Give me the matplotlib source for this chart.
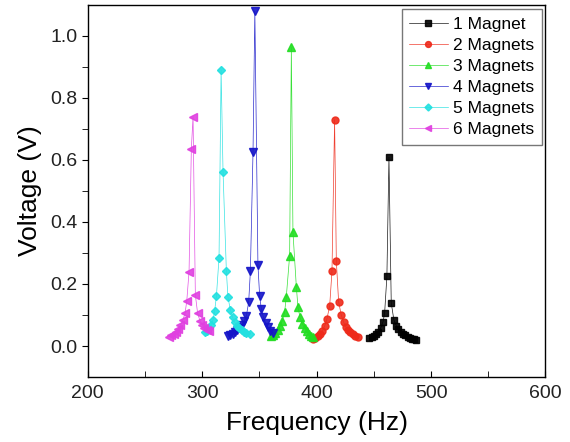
import numpy as np
from matplotlib import pyplot as plt

plt.rcParams['font.family'] = ['Liberation Sans', 'DejaVu Sans']

# frequency (Hz) / voltage (V), one pair per series
f1 = [446, 448, 450, 452, 454, 456, 458, 459.4, 461.4, 463.2, 465.2, 467.5, 469.5, 471.5,
      473.5, 475.5, 477.5, 479.5, 481.5, 483.5, 485.5, 487]
v1 = [0.025, 0.028, 0.033, 0.038, 0.046, 0.058, 0.078, 0.105, 0.225, 0.609, 0.139, 0.084,
      0.066, 0.054, 0.045, 0.039, 0.034, 0.030, 0.027, 0.024, 0.022, 0.020]

f2 = [397, 399, 401, 403, 405, 407, 409, 411.4, 413.4, 415.7, 417.2, 419.2, 421.5, 423.5,
      425.5, 427.5, 429.5, 431.5, 433.5, 436]
v2 = [0.023, 0.027, 0.032, 0.039, 0.049, 0.064, 0.087, 0.13, 0.241, 0.73, 0.275, 0.143, 0.10,
      0.077, 0.062, 0.052, 0.044, 0.038, 0.033, 0.028]

f3 = [360.4, 362, 364, 366, 368, 370, 372, 373.5, 376.4, 377.9, 379.3, 382.3, 383.7, 385.5,
      387.5, 389.5, 391.5, 393.5, 395, 396.8]
v3 = [0.033, 0.037, 0.043, 0.051, 0.063, 0.082, 0.109, 0.159, 0.291, 0.964, 0.367, 0.189,
      0.125, 0.092, 0.071, 0.057, 0.047, 0.039, 0.033, 0.028]

f4 = [322.5, 324.5, 326.5, 328.5, 330.5, 332.5, 334.5, 336.5, 338.6, 340.6, 342.1, 344.4, 346,
      348.7, 350.2, 351.7, 353.5, 355.5, 357.5, 359.5, 362]
v4 = [0.033, 0.036, 0.040, 0.045, 0.051, 0.059, 0.068, 0.080, 0.098, 0.141, 0.241, 0.625, 1.08,
      0.262, 0.16, 0.119, 0.092, 0.073, 0.060, 0.050, 0.042]

f5 = [302.2, 304, 306, 308, 309.5, 310.9, 312.4, 314.7, 316.5, 318.2, 321.1, 322.5, 324.6, 326.5,
      328.5, 330.5, 332.5, 334.5, 336.5, 338.5, 341.5]
v5 = [0.044, 0.050, 0.058, 0.068, 0.085, 0.114, 0.16, 0.284, 0.89, 0.562, 0.243, 0.157, 0.117,
      0.092, 0.076, 0.065, 0.057, 0.051, 0.046, 0.042, 0.039]

f6 = [271, 273, 275, 277, 279, 281, 283, 285, 286.5, 288.5, 290.5, 292, 294, 296, 298, 300,
      302, 304, 306]
v6 = [0.030, 0.034, 0.039, 0.046, 0.055, 0.067, 0.083, 0.105, 0.145, 0.24, 0.635, 0.74, 0.165,
      0.105, 0.082, 0.068, 0.059, 0.053, 0.049]

labels = ['1 Magnet', '2 Magnets', '3 Magnets', '4 Magnets', '5 Magnets', '6 Magnets']
colors = ['#000000', '#ee2a1a', '#22dd22', '#1515c8', '#22e0e0', '#e040e0']
markers = ['s', 'o', '^', 'v', 'D', '<']
sizes = [4.5, 5, 5.5, 5.5, 4.2, 5.5]

fig = plt.figure(figsize=(5.7, 4.42), dpi=100)
ax = fig.add_axes([0.154, 0.147, 0.803, 0.842])

series = [(f1, v1), (f2, v2), (f3, v3), (f4, v4), (f5, v5), (f6, v6)]
for (f, v), lab, c, m, s in zip(series, labels, colors, markers, sizes):
    ax.plot(f, v, color=c, lw=0.5, alpha=0.9, marker=m, ms=s, mec=c, mfc=c, label=lab)

ax.set_xlim(200, 600)
ax.set_ylim(-0.1, 1.1)
ax.set_xticks(np.arange(200, 601, 100))
ax.set_xticks(np.arange(250, 600, 100), minor=True)
ax.set_yticks(np.arange(0, 1.01, 0.2))
ax.set_yticks(np.arange(0.1, 1.0, 0.2), minor=True)
ax.tick_params(axis='x', which='both', direction='in', length=4, labelsize=14, pad=6,
               labelcolor='#222222')
ax.tick_params(axis='y', which='both', direction='out', length=4, labelsize=14,
               labelcolor='#222222')
ax.yaxis.set_major_formatter(plt.FormatStrFormatter('%.1f'))
for sp in ax.spines.values():
    sp.set_linewidth(1.0)

ax.set_xlabel('Frequency (Hz)', fontsize=19, labelpad=6)
ax.set_ylabel('Voltage (V)', fontsize=19, labelpad=6)

leg = ax.legend(loc='upper right', bbox_to_anchor=(0.992, 0.988), fontsize=12.5,
                fancybox=False, edgecolor='#555555', handlelength=2.2,
                labelspacing=0.33, borderpad=0.45, handletextpad=0.3, borderaxespad=0,
                markerscale=0.85)
leg.get_frame().set_linewidth(1.0)

fig.savefig('out.png', dpi=100)
